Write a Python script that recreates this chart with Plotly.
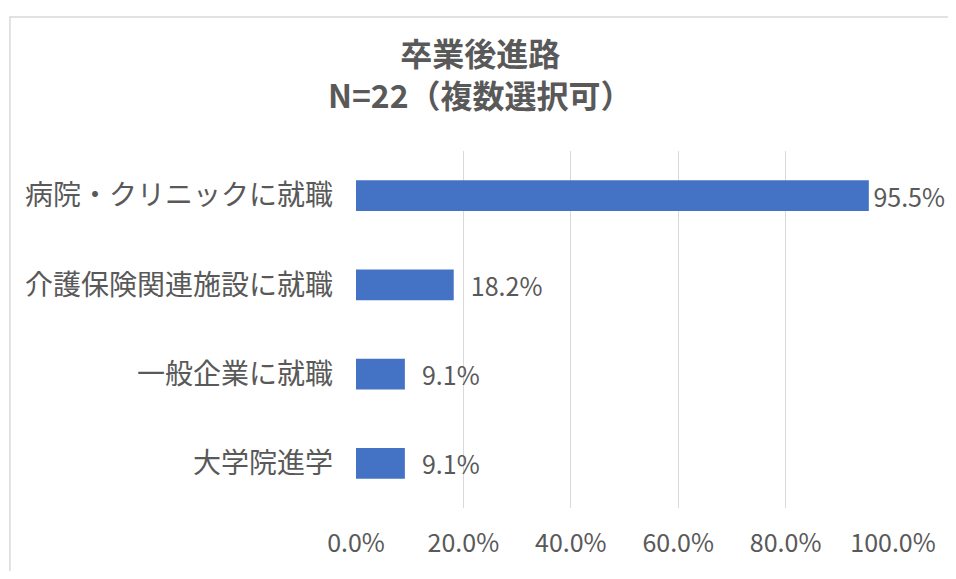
import plotly.graph_objects as go

categories = ["病院・クリニックに就職", "介護保険関連施設に就職", "一般企業に就職", "大学院進学"]
values = [95.5, 18.2, 9.1, 9.1]
tick_vals = [0, 20, 40, 60, 80, 100]
tick_labels = ["0.0%", "20.0%", "40.0%", "60.0%", "80.0%", "100.0%"]
title_line1 = "卒業後進路"
title_line2 = "N=22（複数選択可）"

FONT = "Noto Sans CJK JP"
TXT = "#595959"
# page body has an 8px margin on every side, so the figure is sized to fit inside it
W, H = 940, 563
L, R, T, B = 348, 52, 143, 46
pw, ph = W - L - R, H - T - B

def px_x(p):
    return (p - L) / pw

def px_y(p):
    return 1 - (p - T) / ph

labels = ["\u200a%.1f%%" % v if v > 90 else "\u2002\u200a%.1f%%" % v for v in values]

fig = go.Figure(go.Bar(
    x=values, y=categories, orientation="h",
    marker=dict(color="#4472C4", line=dict(width=0)),
    width=0.345,
    text=labels,
    textposition="outside", cliponaxis=False, constraintext="none",
    textfont=dict(family=FONT, size=25, color=TXT),
    hoverinfo="skip",
))

fig.update_layout(
    width=W, height=H,
    margin=dict(l=L, r=R, t=T, b=B),
    paper_bgcolor="white", plot_bgcolor="white",
    showlegend=False,
    font=dict(family=FONT, color=TXT),
    xaxis=dict(range=[0, 100], tickmode="array", tickvals=tick_vals, ticktext=tick_labels,
               showgrid=True, gridcolor="#D9D9D9", gridwidth=1.3, zeroline=False,
               showline=False, ticks="",
               tickfont=dict(family=FONT, size=25, color=TXT), ticklabelstandoff=18,
               fixedrange=True),
    yaxis=dict(categoryorder="array", categoryarray=categories, autorange="reversed",
               showgrid=False, zeroline=False, showline=False, ticks="",
               tickfont=dict(family=FONT, size=28, color=TXT), ticklabelstandoff=22,
               fixedrange=True),
    shapes=[dict(type="rect", xref="paper", yref="paper",
                 x0=px_x(0), x1=px_x(1200), y0=px_y(900), y1=px_y(2.5),
                 line=dict(color="#D9D9D9", width=1.5), fillcolor="rgba(0,0,0,0)",
                 layer="below")],
    annotations=[
        dict(text="<b>" + title_line1 + "<br>" + title_line2 + "</b>",
             xref="paper", yref="paper", align="center",
             x=px_x(473), y=px_y(61), xanchor="center", yanchor="middle",
             showarrow=False, font=dict(family=FONT, size=32, color=TXT)),
    ],
)

fig.write_html("out.html")
